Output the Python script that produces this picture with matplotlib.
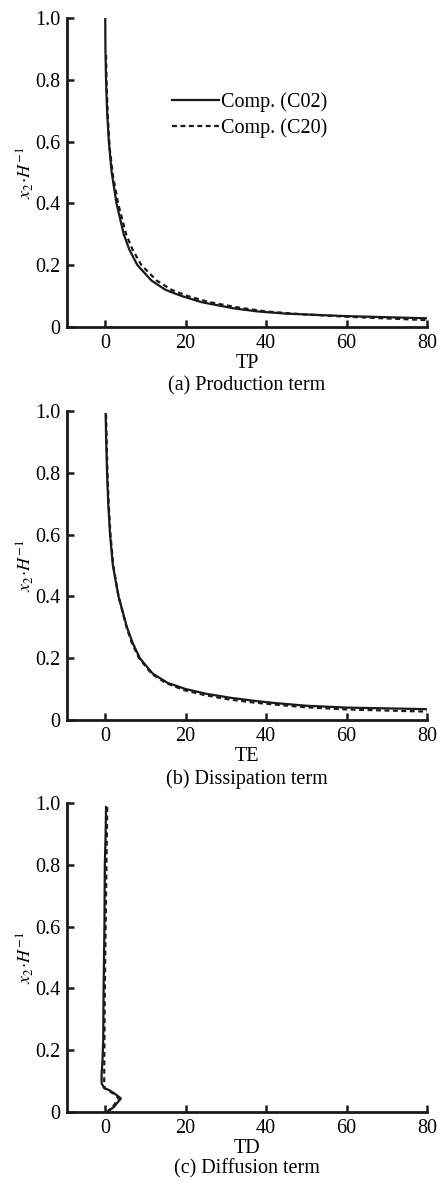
import numpy as np
import matplotlib
matplotlib.use('Agg')
import matplotlib.pyplot as plt

plt.rcParams['font.family'] = ['Liberation Serif', 'DejaVu Serif']
plt.rcParams['mathtext.fontset'] = 'stix'

# (a) production term
tp_c02_x = [0.0, 0.05, 0.2, 0.45, 0.9, 1.6, 2.8, 4.6, 6.0, 8.0, 11.5, 15.0,
            19.0, 24.0, 32.0, 38.0, 45.0, 60.0, 80.0]
tp_c02_y = [1.0, 0.90, 0.80, 0.70, 0.60, 0.50, 0.40, 0.30, 0.25, 0.20, 0.15, 0.12,
            0.10, 0.080, 0.060, 0.050, 0.043, 0.035, 0.028]
tp_c20_x = [0.2, 0.35, 0.65, 1.1, 1.9, 3.2, 5.2, 6.8, 9.0, 12.8, 16.5, 20.5,
            26.0, 33.0, 40.0, 50.0, 62.0, 80.0]
tp_c20_y = [0.88, 0.78, 0.68, 0.58, 0.49, 0.40, 0.30, 0.25, 0.20, 0.15, 0.12,
            0.10, 0.080, 0.063, 0.050, 0.040, 0.032, 0.022]

# (b) dissipation term
te_c02_x = [0.1, 0.25, 0.45, 0.75, 1.2, 1.9, 3.3, 5.4, 6.8, 8.6, 11.8, 15.5,
            20.0, 25.0, 31.0, 37.0, 42.0, 50.0, 60.0, 80.0]
te_c02_y = [0.99, 0.90, 0.80, 0.70, 0.60, 0.50, 0.40, 0.30, 0.25, 0.20, 0.15, 0.12,
            0.10, 0.085, 0.072, 0.062, 0.055, 0.046, 0.040, 0.035]
te_c20_x = [0.2, 0.35, 0.55, 0.85, 1.3, 2.0, 3.3, 5.3, 6.6, 8.4, 11.5, 15.0,
            19.5, 24.5, 30.5, 36.5, 42.0, 50.0, 60.0, 80.0]
te_c20_y = [0.99, 0.90, 0.80, 0.70, 0.60, 0.50, 0.40, 0.30, 0.25, 0.20, 0.15, 0.12,
            0.097, 0.081, 0.067, 0.057, 0.050, 0.041, 0.034, 0.027]

# (c) diffusion term
td_c02_x = [0.2, 0.1, -0.1, -0.2, -0.4, -0.5, -0.7, -0.9, -0.9, -0.25, 1.0, 2.5,
            3.9, 3.0, 2.2, 1.3, 0.6]
td_c02_y = [0.987, 0.90, 0.80, 0.60, 0.40, 0.233, 0.16, 0.125, 0.093, 0.077, 0.071,
            0.058, 0.044, 0.030, 0.017, 0.008, 0.001]
td_c20_x = [0.5, 0.4, 0.3, 0.1, -0.1, -0.2, -0.25, -0.25, -0.2, 0.8, 2.2, 3.4,
            2.6, 1.9, 1.1, 0.5]
td_c20_y = [0.987, 0.90, 0.80, 0.60, 0.40, 0.233, 0.125, 0.093, 0.078, 0.070, 0.058,
            0.044, 0.030, 0.017, 0.008, 0.001]

xticks = [0, 20, 40, 60, 80]
yticks = [0, 0.2, 0.4, 0.6, 0.8, 1.0]
yticklabels = ['0', '0.2', '0.4', '0.6', '0.8', '1.0']

panels = [
    (tp_c02_x, tp_c02_y, tp_c20_x, tp_c20_y, 'TP', '(a) Production term', 0.7234),
    (te_c02_x, te_c02_y, te_c20_x, te_c20_y, 'TE', '(b) Dissipation term', 0.3909),
    (td_c02_x, td_c02_y, td_c20_x, td_c20_y, 'TD', '(c) Diffusion term', 0.0592),
]

f = plt.figure(figsize=(4.38, 11.82), dpi=100)

for i, (x1, y1, x2, y2, xlab, cap, bot) in enumerate(panels):
    ax = f.add_axes([0.153, bot, 0.822, 0.2614])
    ax.plot(x1, y1, '-', color='#1a1a1a', lw=1.6, label='Comp. (C02)')
    ax.plot(x2, y2, '--', color='#1a1a1a', lw=1.6, dashes=(2.2, 1.6),
            label='Comp. (C20)')
    ax.set_xlim(-9.5, 80)
    ax.set_ylim(0, 1.0)
    for s in ['top', 'right']:
        ax.spines[s].set_visible(False)
    for s in ['left', 'bottom']:
        ax.spines[s].set_linewidth(2.0)
        ax.spines[s].set_color('#1a1a1a')
    ax.set_xticks(xticks)
    ax.set_xticklabels([str(v) for v in xticks])
    ax.set_yticks(yticks)
    ax.set_yticklabels(yticklabels)
    ax.tick_params(direction='in', length=5, width=1.8, labelsize=14.5, pad=5,
                   color='#1a1a1a')
    ax.set_xlabel(xlab, fontsize=14.5, labelpad=1)
    ax.set_ylabel(r'$x_2\!\cdot\! H^{-1}$', fontsize=13)
    ax.yaxis.set_label_coords(-0.085, 0.5)
    ax.text(0.5, -0.19 if i < 2 else -0.183, cap, transform=ax.transAxes,
            ha='center', va='center', fontsize=14.5)
    if i == 0:
        ax.legend(loc='upper left', bbox_to_anchor=(0.27, 0.785), frameon=False,
                  fontsize=14.5, handlelength=2.3, handletextpad=0.1,
                  labelspacing=0.3, borderaxespad=0)

plt.savefig('out.png', dpi=100)
